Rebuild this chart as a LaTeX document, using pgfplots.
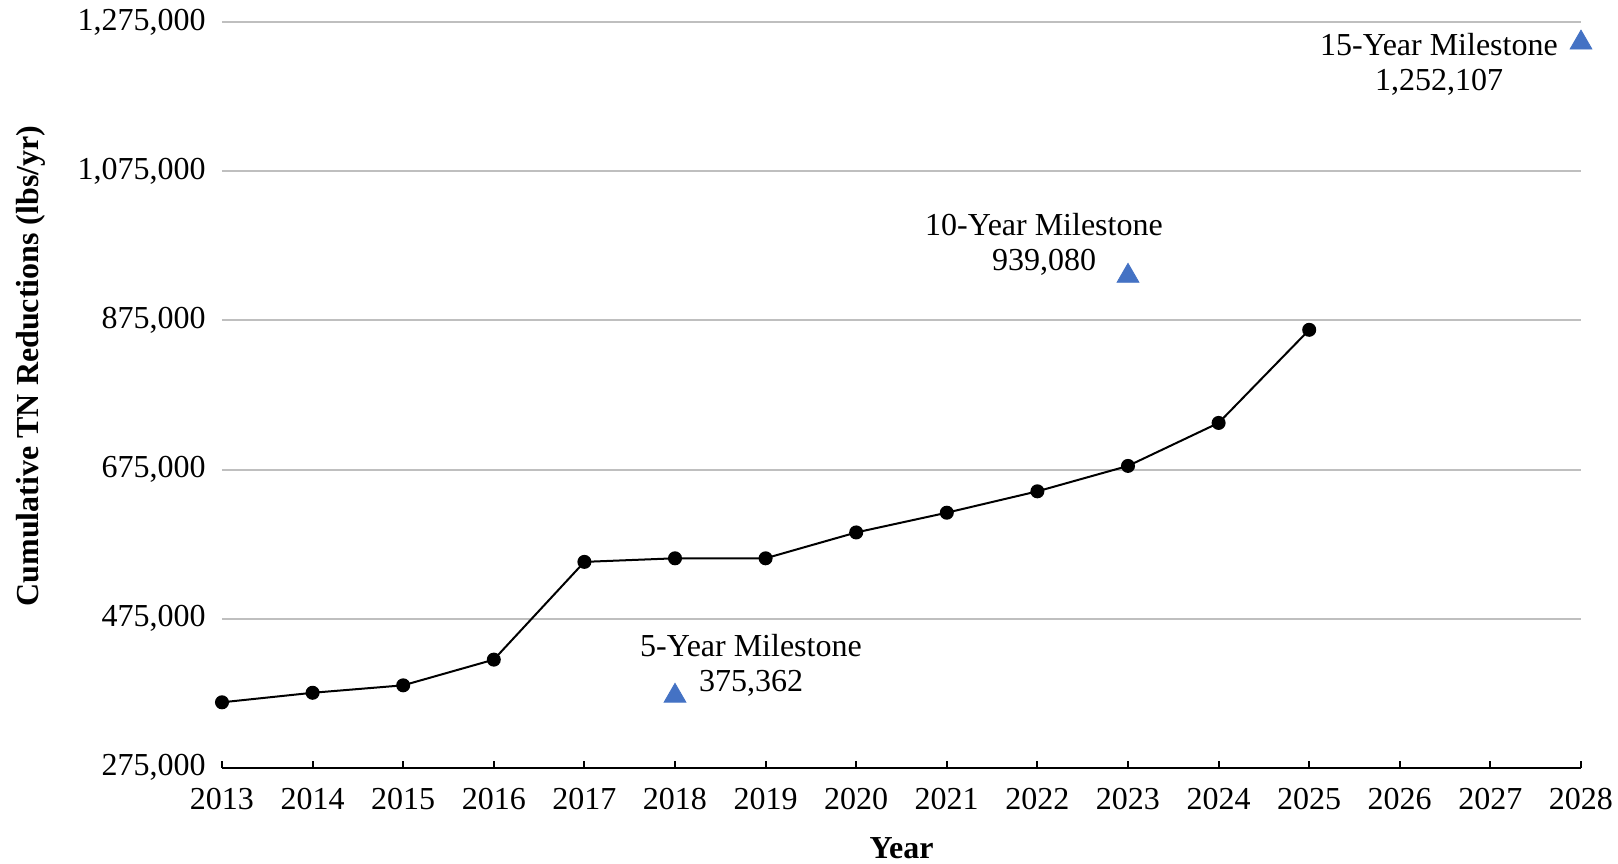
\documentclass[border=0pt]{standalone}
\usepackage{fontspec}
\setmainfont{Liberation Serif}
\usepackage{pgfplots}
\pgfplotsset{compat=1.18}
\usetikzlibrary{calc}

\definecolor{gridgray}{RGB}{191,191,191}
\definecolor{milestoneblue}{RGB}{68,114,196}

\newcommand{\chartfont}{\fontsize{16}{17.5}\selectfont}

\begin{document}
\begin{tikzpicture}
\begin{axis}[
  scale only axis,
  width=679.5pt, height=372.5pt,
  xmin=2013, xmax=2028,
  ymin=275000, ymax=1275000,
  xtick={2013,2014,...,2028},
  ytick={275000,475000,675000,875000,1075000,1275000},
  scaled y ticks=false,
  axis x line*=bottom,
  axis y line*=left,
  x axis line style={-, black, line width=1pt},
  y axis line style={draw=none},
  tick align=inside,
  major tick length=3.5pt,
  xtick style={black, line width=1pt},
  ytick style={draw=none},
  ymajorgrids,
  grid style={gridgray, line width=1pt},
  /pgf/number format/assume math mode=true,
  tick label style={font=\chartfont},
  xticklabel style={/pgf/number format/1000 sep={}, yshift=-7pt},
  yticklabel style={/pgf/number format/.cd, fixed, 1000 sep={,}, /tikz/.cd, xshift=-4.7pt},
  xlabel={\textbf{Year}},
  ylabel={\textbf{Cumulative TN Reductions (lbs/yr)}},
  label style={font=\chartfont},
  xlabel style={at={(rel axis cs:0.5,-0.108)}, anchor=center},
  ylabel style={at={(rel axis cs:-0.1405,0.539)}, anchor=center},
  clip=false,
]
% cumulative reductions achieved each year
\addplot[black, line width=1pt, mark=*, mark size=3pt] coordinates {
  (2013,362500) (2014,375300) (2015,385300) (2016,419800)
  (2017,551000) (2018,555800) (2019,555800) (2020,590500)
  (2021,617000) (2022,645700) (2023,679800) (2024,737500)
  (2025,862500)
};
% milestone targets
\addplot[only marks, mark=triangle*, mark size=6.3pt,
  mark options={fill=milestoneblue, draw=milestoneblue, yshift=-1.6pt}] coordinates {
  (2018,375362) (2023,939080) (2028,1252107)
};
\node[font=\chartfont, align=center, xshift=38pt, yshift=13.6pt]
  at (axis cs:2018,375362) {5-Year Milestone\\375,362};
\node[font=\chartfont, align=center, xshift=-42pt, yshift=14.4pt]
  at (axis cs:2023,939080) {10-Year Milestone\\939,080};
\node[font=\chartfont, align=center, xshift=-71pt, yshift=-12.6pt]
  at (axis cs:2028,1252107) {15-Year Milestone\\1,252,107};
\end{axis}
\pgfresetboundingbox
\path ($(current axis.south west)+(-111pt,-47.75pt)$) rectangle ($(current axis.north east)+(18.5pt,11.25pt)$);
\end{tikzpicture}
\end{document}
